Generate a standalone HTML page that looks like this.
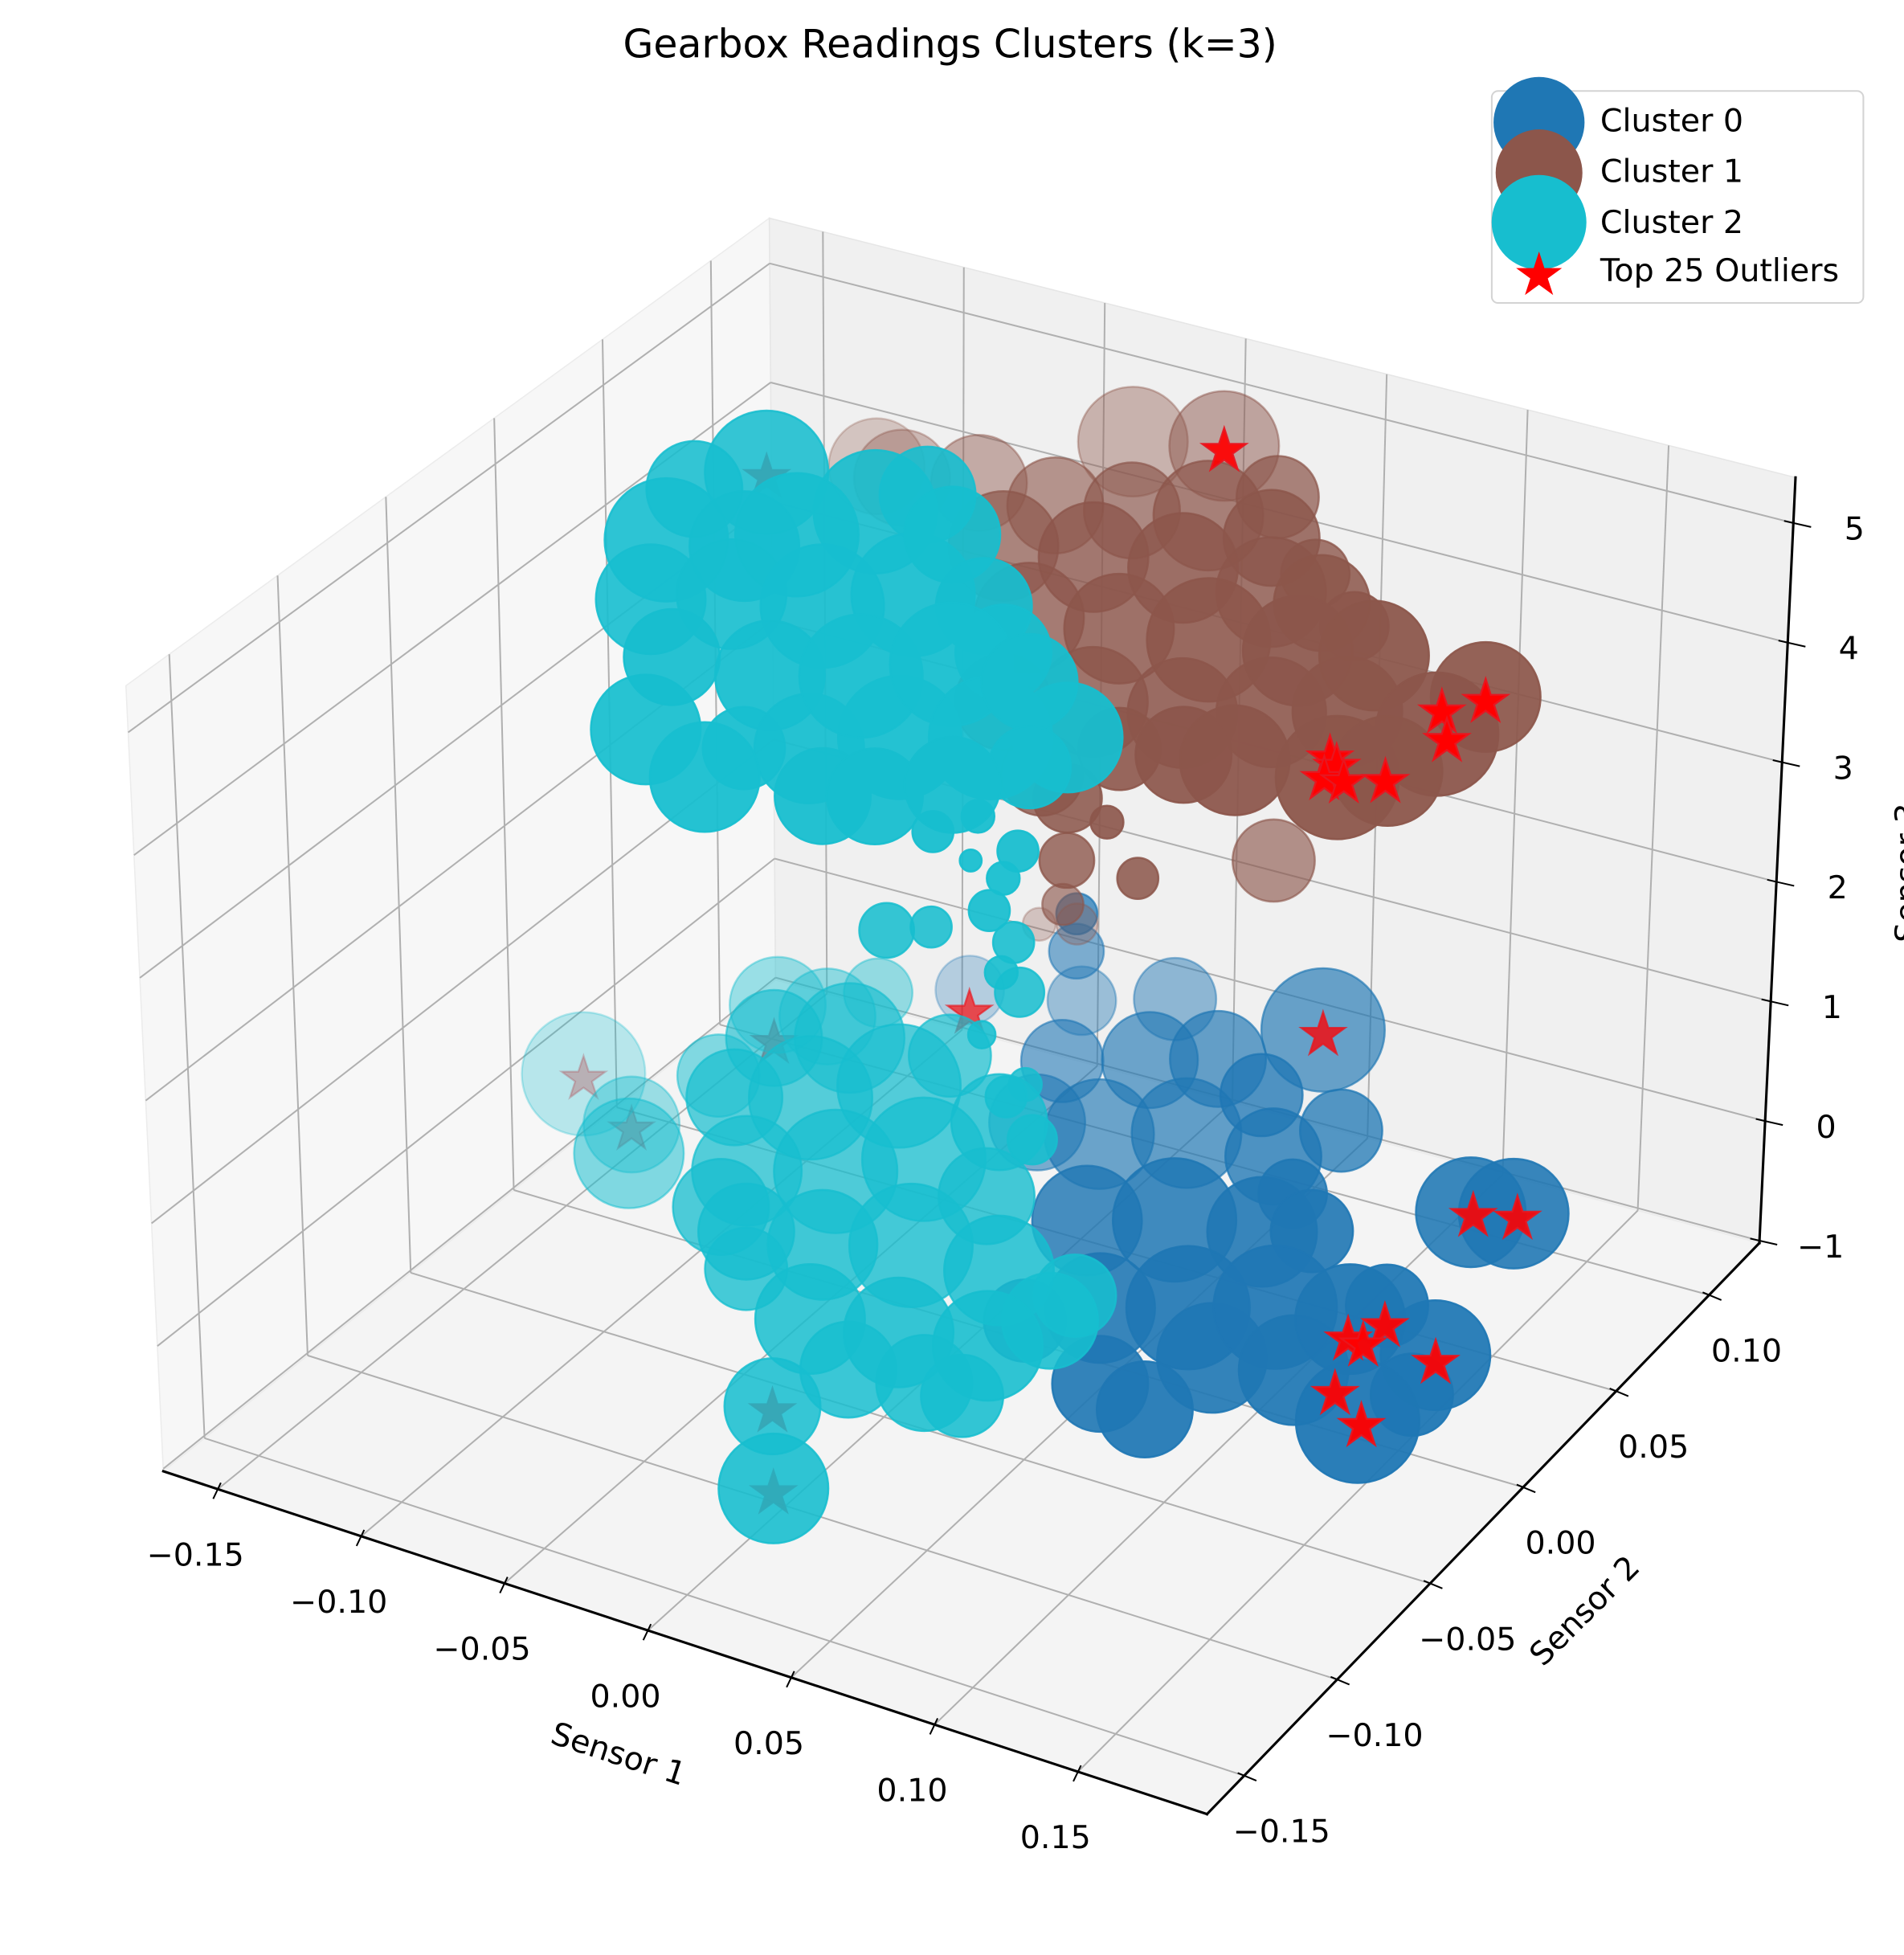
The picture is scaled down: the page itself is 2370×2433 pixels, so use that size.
<!DOCTYPE html>
<html><head><meta charset="utf-8"><title>Gearbox Readings Clusters (k=3)</title>
<style>html,body{margin:0;padding:0;background:#fff}svg{display:block}</style></head>
<body>
<svg id="chart" xmlns="http://www.w3.org/2000/svg" width="2370" height="2433" viewBox="0 0 1527 1568" preserveAspectRatio="none" font-family="DejaVu Sans, Liberation Sans, sans-serif">
<rect x="0" y="0" width="1527" height="1568" fill="#fff"/>
<g id="panes"></g>
<g id="grid"></g>
<g id="axes"></g>
<g id="marks"></g>
<text x="762" y="46" font-size="31.5" text-anchor="middle" fill="#000">Gearbox Readings Clusters (k=3)</text>
<text x="496" y="1407" font-size="25.5" text-anchor="middle" dominant-baseline="central" transform="rotate(18 496 1407)">Sensor 1</text>
<text x="1271" y="1292" font-size="25.5" text-anchor="middle" dominant-baseline="central" transform="rotate(-45 1271 1292)">Sensor 2</text>
<text x="1538" y="700" font-size="25.5" text-anchor="middle" transform="rotate(-90 1538 700)">Sensor 3</text>
<g>
<rect x="1196.4" y="73" width="298" height="170" rx="5" fill="#fff" fill-opacity="0.8" stroke="#d3d3d3" stroke-width="1.3"/>
<g>
<circle cx="1234.3" cy="98.2" r="36.5" fill="#1f77b4"/>
<text x="1283.4" y="105.3" font-size="25.5">Cluster 0</text></g>
<g>
<circle cx="1234.3" cy="138.6" r="34.8" fill="#8c564b"/>
<text x="1283.4" y="146" font-size="25.5">Cluster 1</text></g>
<g>
<circle cx="1234.3" cy="178.3" r="38" fill="#17becf"/>
<text x="1283.4" y="187" font-size="25.5">Cluster 2</text></g>
<g>
<path id="legstar" fill="#ff0000"/>
<text x="1283.4" y="225.5" font-size="25.5">Top 25 Outliers</text></g>
</g>
</svg>
<script>
// ---- data (Sensor 1, Sensor 2, Sensor 3, marker magnitude) ----
const c0x=[-0.0158,-0.0175,-0.004,0.0197,0.0382,0.0612,0.0175,0.0412,0.0722,0.0402,0.0638,0.0912,0.1047,0.0623,0.086,0.1096,0.1336,0.1574,0.1542,0.1224,0.0966,0.093,0.0737,0.0458,0.14,0.0587,0.0834,0.1368,0.1493,0.0885,-0.0516,0.0078,-0.003,-0.0087,0.1618];
const c0y=[0.0684,0.0738,0.0451,0.0561,0.0647,0.0543,0.0337,0.0447,0.0451,-0.0048,0.0062,0.0118,0.0181,-0.0298,-0.0188,-0.0079,-0.0038,0.0069,-0.0297,-0.0164,-0.0213,-0.0511,-0.046,-0.0445,0.0062,0.0896,0.0642,0.0552,0.0596,0.0316,0.065,0.0856,0.0312,0.0583,-0.0122];
const c0z=[1.0,0.5,0.5,0.5,0.5,0.5,0.2,0.2,0.2,0.2,0.2,0.2,0.2,0.0,0.0,0.0,0.0,-0.3,-0.3,-0.3,-0.3,-0.3,-0.3,0.0,0.0,0.5,0.2,0.0,0.0,0.2,0.5,0.5,0.2,1.5,-0.3];
const c0s=[2.0,2.5,3.0,3.5,3.5,3.0,4.0,4.0,3.5,4.0,4.5,4.0,3.0,4.0,4.5,4.5,4.0,4.0,4.5,4.0,4.0,3.5,3.5,3.0,3.0,4.5,3.0,4.0,4.0,2.5,2.5,3.0,3.5,1.5,3.0];

const c1x=[-0.0804,-0.0583,-0.0306,-0.0085,0.0137,0.0379,-0.0311,-0.0037,0.0236,0.0437,0.0609,-0.0129,0.0144,0.0418,0.0691,0.0912,0.0154,0.0427,0.0663,0.0866,0.120,0.1177,0.1153,0.1037,0.0711,0.0558,0.037,-0.0308,-0.0046,0.0266,0.05,0.0769,-0.0909,0.0274,0.0278,0.0218,0.045,0.052,0.0652,0.0031,0.0132,-0.0083,0.0133];
const c1y=[0.0709,0.0777,0.0765,0.0833,0.090,0.0873,0.0518,0.0575,0.0632,0.0791,0.0801,0.0388,0.0446,0.0502,0.0559,0.0627,0.0304,0.0361,0.047,0.0564,0.079,0.0568,0.0347,0.0259,0.0213,0.0176,0.0125,0.1149,0.1236,0.1065,0.0925,0.0735,0.0731,0.0006,0.0001,0.0072,-0.0052,0.0008,0.0518,0.0224,0.0271,0.0195,0.0081];
const c1z=[4.5,4.5,4.5,4.5,4.5,4.5,4.5,4.5,4.5,4.2,4.2,4.2,4.2,4.2,4.2,4.2,3.8,3.8,3.8,3.8,3.8,3.8,3.8,3.8,3.8,3.8,3.8,4.5,4.5,4.5,4.2,4.2,4.5,3.5,3.0,2.5,3.5,3.0,2.5,2.0,2.0,3.8,3.5];
const c1s=[3.5,3.5,3.5,3.5,4.0,3.5,4.0,4.0,4.0,4.0,3.5,4.0,4.0,4.5,4.0,4.0,4.0,4.0,4.0,4.0,4.0,4.5,4.0,4.5,4.0,3.5,3.0,4.0,4.0,3.0,2.5,2.5,3.5,2.5,2.0,1.5,1.2,1.5,3.0,1.2,1.5,3.5,3.0];

const c2x=[-0.1207,-0.1171,-0.0927,-0.0918,-0.0617,-0.1177,-0.0609,-0.0257,-0.0122,-0.0888,-0.076,-0.068,-0.0981,-0.0707,-0.0508,-0.0285,-0.0618,-0.0382,-0.0184,0.0075,-0.044,-0.0241,-0.0004,0.0198,0.0043,0.019,-0.0086,-0.0483,-0.1307,-0.0986,
 0.0024,0.0094,0.0025,0.0165,0.012,0.0042,0.0019,0.0078,0.0003,-0.0355,-0.0248,0.0032,0.0102,0.0301,0.0116,
 -0.089,-0.0688,-0.0806,-0.0603,-0.0404,-0.0658,-0.0421,-0.0223,0.0058,-0.0472,-0.0232,-0.0069,0.0241,0.0525,-0.0116,0.0157,0.0432,0.0265,0.0025,-0.0066,0.0103,-0.1679,-0.1384,-0.1218,-0.1113,-0.1185,-0.1012,-0.0434,-0.0952,-0.0362,0.0519,0.0403,-0.0023,-0.0614];
const c2y=[0.0137,0.0011,-0.0227,-0.0368,-0.0509,0.0571,-0.033,-0.0448,-0.0385,0.032,0.052,0.0662,0.0134,0.019,0.0353,0.0386,-0.0189,-0.008,0.0083,0.0098,-0.0251,-0.009,0.002,0.0114,-0.0238,-0.0065,0.0199,0.0508,0.0406,0.0204,
 -0.0307,-0.0183,-0.0117,-0.0156,-0.0017,-0.0045,0.0113,-0.0034,0.0169,0.001,0.008,-0.0063,-0.0037,-0.019,0.004,
 0.0197,0.0291,-0.0114,-0.002,0.0142,-0.026,-0.015,0.0013,-0.0068,-0.0524,-0.0483,-0.0269,-0.0265,-0.0414,-0.0711,-0.0655,-0.0598,-0.0679,-0.072,-0.0973,-0.1212,0.033,0.0166,-0.007,0.0227,0.0614,0.0624,-0.0579,0.0792,0.0337,-0.0277,-0.0685,0.0109,-0.045];
const c2z=[4.5,4.2,4.2,3.8,3.8,4.5,3.8,3.8,3.8,4.5,4.5,4.5,4.2,4.2,4.2,4.2,4.2,4.2,4.2,4.2,3.8,3.8,3.8,3.8,3.8,3.8,4.2,4.5,4.5,4.5,
 3.5,3.5,3.0,3.0,3.0,2.5,2.0,2.0,1.5,2.0,2.0,1.5,1.0,1.0,1.0,
 0.5,0.5,0.5,0.5,0.5,0.2,0.2,0.2,0.2,0.2,0.2,0.0,0.0,0.0,0.0,0.0,0.0,-0.3,-0.3,-0.3,-0.5,-0.5,-0.5,-0.3,0.0,0.0,0.0,0.0,0.0,0.5,0.0,-0.3,0.5,0.2];
const c2s=[4.5,4.0,3.5,4.0,4.0,4.5,3.0,3.5,3.5,4.5,4.5,3.5,4.0,4.5,4.5,3.5,4.0,4.5,4.5,3.5,4.0,4.5,4.5,4.0,3.5,3.0,3.5,3.5,3.5,4.0,
 1.5,1.2,0.8,1.2,1.5,1.5,1.5,1.2,1.8,2.0,1.5,1.0,1.5,1.8,1.2,
 3.5,4.0,3.5,4.5,4.5,4.0,4.5,4.5,3.5,3.5,4.0,4.5,4.0,3.5,4.0,4.0,4.0,3.5,3.5,3.5,4.0,4.5,3.5,4.0,3.0,3.5,3.5,3.0,2.5,3.0,3.0,3.0,3.5,3.5];

const ox=[-0.0046,0.120,0.1112,0.1211,0.0946,0.0992,0.1054,0.1165,0.1371,0.1504,0.1374,0.1432,0.1438,0.1582,0.1391,0.1552,0.0587,-0.046,-0.1679,-0.1384,-0.0066,0.0103,-0.1177,-0.089,0.0989];
const oy=[0.1236,0.079,0.0692,0.0571,0.0356,0.0258,0.0267,0.0318,0.056,0.06,-0.0105,-0.0112,-0.0005,0.0058,-0.0192,-0.0292,0.0896,0.0571,0.033,0.0166,-0.0973,-0.1212,0.0571,0.0197,0.0327];
const oz=[4.5,3.8,3.8,3.8,3.8,3.8,3.8,3.8,0.0,0.0,0.0,0.0,0.0,-0.3,-0.3,-0.3,0.5,0.5,-0.5,-0.5,-0.3,-0.5,4.5,0.5,3.8];

const xTicks=[-0.15,-0.10,-0.05,0.00,0.05,0.10,0.15];
const xTickLabels=["\u22120.15","\u22120.10","\u22120.05","0.00","0.05","0.10","0.15"];
const yTicks=[-0.15,-0.10,-0.05,0.00,0.05,0.10];
const yTickLabels=["\u22120.15","\u22120.10","\u22120.05","0.00","0.05","0.10"];
const zTicks=[-1,0,1,2,3,4,5];
const zTickLabels=["\u22121","0","1","2","3","4","5"];

// ---- projection ----
const X0=-0.169,X1=0.195,Y0=-0.170,Y1=0.127,Z0=-1.02,Z1=5.38;
const BOT=[[131,1180],[968,1455],[1411,997],[622,786]];
const TOP=[[101,550],[1000,800],[1440,383],[617,175]];
function bil(c,u,v){
  return [c[0][0]*(1-u)*(1-v)+c[1][0]*u*(1-v)+c[2][0]*u*v+c[3][0]*(1-u)*v,
          c[0][1]*(1-u)*(1-v)+c[1][1]*u*(1-v)+c[2][1]*u*v+c[3][1]*(1-u)*v];
}
function norm3(x,y,z){return [(x-X0)/(X1-X0),(y-Y0)/(Y1-Y0),(z-Z0)/(Z1-Z0)];}
function proj(x,y,z){
  const n=norm3(x,y,z);const b=bil(BOT,n[0],n[1]),t=bil(TOP,n[0],n[1]);
  return [b[0]+(t[0]-b[0])*n[2],b[1]+(t[1]-b[1])*n[2]];
}
function closeness(x,y,z){const n=norm3(x,y,z);return n[0]+n[2]-0.8*n[1];}
const NS='http://www.w3.org/2000/svg';
function mk(tag,parent,attrs){const e=document.createElementNS(NS,tag);for(const k in attrs)e.setAttribute(k,attrs[k]);parent.appendChild(e);return e;}
function poly(pts){return pts.map(p=>p[0].toFixed(1)+','+p[1].toFixed(1)).join(' ');}

const panes=document.getElementById('panes'),grid=document.getElementById('grid'),axes=document.getElementById('axes'),marks=document.getElementById('marks');
let e;
e=mk('polygon',panes,{points:poly([proj(X0,Y0,Z0),proj(X0,Y1,Z0),proj(X0,Y1,Z1),proj(X0,Y0,Z1)]),fill:'#f7f7f7',stroke:'#ececec','stroke-width':1});


e=mk('polygon',panes,{points:poly([proj(X0,Y1,Z0),proj(X1,Y1,Z0),proj(X1,Y1,Z1),proj(X0,Y1,Z1)]),fill:'#f0f0f0',stroke:'#e6e6e6','stroke-width':1});


e=mk('polygon',panes,{points:poly([proj(X0,Y0,Z0),proj(X1,Y0,Z0),proj(X1,Y1,Z0),proj(X0,Y1,Z0)]),fill:'#f4f4f4',stroke:'#ececec','stroke-width':1});



function gline(p,q,name){const l=mk('line',grid,{x1:p[0],y1:p[1],x2:q[0],y2:q[1],stroke:'#b0b0b0','stroke-width':1.3});
  
  }
xTicks.forEach(t=>{gline(proj(t,Y0,Z0),proj(t,Y1,Z0),'x-gridline-floor');gline(proj(t,Y1,Z0),proj(t,Y1,Z1),'x-gridline-wall');});
yTicks.forEach(t=>{gline(proj(X0,t,Z0),proj(X1,t,Z0),'y-gridline-floor');gline(proj(X0,t,Z0),proj(X0,t,Z1),'y-gridline-wall');});
zTicks.forEach(t=>{gline(proj(X0,Y0,t),proj(X0,Y1,t),'z-gridline-left');gline(proj(X0,Y1,t),proj(X1,Y1,t),'z-gridline-back');});

function aline(p,q,name,w){const l=mk('line',axes,{x1:p[0],y1:p[1],x2:q[0],y2:q[1],stroke:'#000','stroke-width':w,'stroke-linecap':'square'});
  
  }
aline(proj(X0,Y0,Z0),proj(X1,Y0,Z0),'x-axis-line',2);
aline(proj(X1,Y0,Z0),proj(X1,Y1,Z0),'y-axis-line',2);
aline(proj(X1,Y1,Z0),proj(X1,Y1,Z1),'z-axis-line',2);
function tlabel(p,txt,name){const t=mk('text',axes,{x:p[0].toFixed(1),y:p[1].toFixed(1),'font-size':25.5,'text-anchor':'middle','dominant-baseline':'central',fill:'#000'});
  t.textContent=txt;
  
  }
xTicks.forEach((t,i)=>{const p=proj(t,Y0,Z0);const d=[-0.43,0.9];
  aline([p[0]-d[0]*5,p[1]-d[1]*5],[p[0]+d[0]*8,p[1]+d[1]*8],'x-tick',1.3);
  tlabel([p[0]-18,p[1]+53],xTickLabels[i],'x-tick-label');});
yTicks.forEach((t,i)=>{const p=proj(X1,t,Z0);const d=[0.92,0.38];
  aline([p[0]-d[0]*5,p[1]-d[1]*5],[p[0]+d[0]*10,p[1]+d[1]*10],'y-tick',1.3);
  tlabel([p[0]+30,p[1]+45],yTickLabels[i],'y-tick-label');});
zTicks.forEach((t,i)=>{const p=proj(X1,Y1,t);const d=[0.97,0.22];
  aline([p[0]-d[0]*7,p[1]-d[1]*7],[p[0]+d[0]*14,p[1]+d[1]*14],'z-tick',1.3);
  tlabel([p[0]+49,p[1]+5],zTickLabels[i],'z-tick-label');});

function alphas(xs,ys,zs,base){
  const c=xs.map((x,i)=>closeness(x,ys[i],zs[i]));
  const mn=Math.min(...c),mx=Math.max(...c);
  return c.map(v=>{const n=(mx-v)/((mx-mn)||1);return base*(1-0.7*n*n);});
}
function order(xs,ys,zs){return xs.map((x,i)=>i).sort((a,b)=>closeness(xs[a],ys[a],zs[a])-closeness(xs[b],ys[b],zs[b]));}
function drawCluster(xs,ys,zs,ss,color,name){
  const g=mk('g',marks,{});
  
  
  const al=alphas(xs,ys,zs,0.95);
  order(xs,ys,zs).forEach(i=>{const p=proj(xs[i],ys[i],zs[i]);
    const c=mk('circle',g,{cx:p[0].toFixed(1),cy:p[1].toFixed(1),r:(ss[i]*11).toFixed(1),fill:color,'fill-opacity':al[i].toFixed(3),stroke:color,'stroke-opacity':al[i].toFixed(3),'stroke-width':1.6});
    
    });
}
function starPath(cx,cy,R){let s='';for(let k=0;k<10;k++){const r=k%2?R*0.382:R;const a=(-90+k*36)*Math.PI/180;s+=(k?'L':'M')+(cx+r*Math.cos(a)).toFixed(1)+','+(cy+r*Math.sin(a)).toFixed(1);}return s+'Z';}
document.getElementById('legstar').setAttribute('d',starPath(1234.3,221,19.3));

drawCluster(c0x,c0y,c0z,c0s,'#1f77b4','cluster-0');
drawCluster(c1x,c1y,c1z,c1s,'#8c564b','cluster-1');
(function(){
  const g=mk('g',marks,{});
  
  
  const al=alphas(ox,oy,oz,1.0);
  order(ox,oy,oz).forEach(i=>{const p=proj(ox[i],oy[i],oz[i]);
    const s=mk('path',g,{d:starPath(p[0],p[1]+4,18.5),fill:'#ff0000','fill-opacity':al[i].toFixed(3),stroke:'#e8161f','stroke-opacity':al[i].toFixed(3),'stroke-width':1.5,'stroke-linejoin':'miter'});
    
    });
})();
drawCluster(c2x,c2y,c2z,c2s,'#17becf','cluster-2');
</script>
</body></html>
